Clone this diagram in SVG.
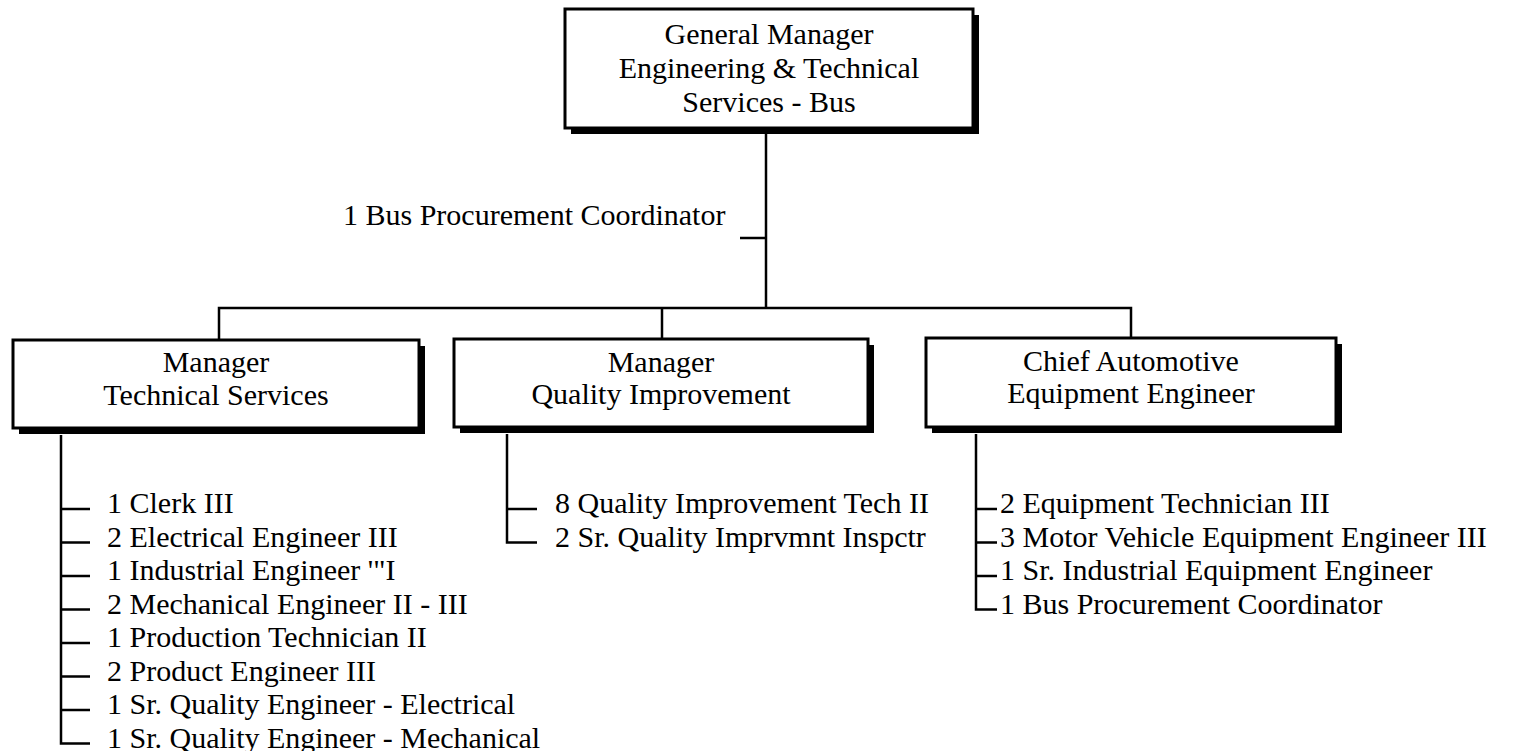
<svg xmlns="http://www.w3.org/2000/svg" width="1523" height="751" viewBox="0 0 1523 751">
<style>
text{font-family:"Liberation Serif","Times New Roman",serif;font-size:30px;fill:#000}
.c{text-anchor:middle}
.box{fill:#fff;stroke:#000;stroke-width:3}
.sh{fill:#000}
.ln{stroke:#000;stroke-width:2.5;fill:none}
</style>
<rect width="1523" height="751" fill="#fff"/>
<g id="connectors">
<path class="ln" d="M766 134 V308"/>
<path class="ln" d="M740 238 H766"/>
<path class="ln" d="M219 340 V308 H1131 V338"/>
<path class="ln" d="M662 308 V339"/>
<path class="ln" d="M61 435 V743.5 H90"/>
<path class="ln" d="M61 509 H90 M61 542.5 H90 M61 576 H90 M61 609.5 H90 M61 643 H90 M61 676.5 H90 M61 710 H90"/>
<path class="ln" d="M507 434 V542.5 H537"/>
<path class="ln" d="M507 509 H537"/>
<path class="ln" d="M976 434 V609.5 H997"/>
<path class="ln" d="M976 509 H997 M976 542.5 H997 M976 576 H997"/>
</g>
<g id="gm">
<rect class="sh" x="571" y="15" width="408" height="119"/>
<rect class="box" x="565" y="9" width="408" height="119"/>
<text class="c" x="769" y="44">General Manager</text>
<text class="c" x="769" y="78">Engineering &amp; Technical</text>
<text class="c" x="769" y="112">Services - Bus</text>
</g>
<g id="coord">
<text x="343" y="225">1 Bus Procurement Coordinator</text>
</g>
<g id="mts">
<rect class="sh" x="19" y="346" width="406" height="88"/>
<rect class="box" x="13" y="340" width="406" height="88"/>
<text class="c" x="216" y="372">Manager</text>
<text class="c" x="216" y="405">Technical Services</text>
</g>
<g id="mqi">
<rect class="sh" x="460" y="345" width="414" height="88"/>
<rect class="box" x="454" y="339" width="414" height="88"/>
<text class="c" x="661" y="372">Manager</text>
<text class="c" x="661" y="404">Quality Improvement</text>
</g>
<g id="caee">
<rect class="sh" x="932" y="344" width="410" height="89"/>
<rect class="box" x="926" y="338" width="410" height="89"/>
<text class="c" x="1131" y="371">Chief Automotive</text>
<text class="c" x="1131" y="403">Equipment Engineer</text>
</g>
<g id="ts-staff">
<text x="107" y="513">1 Clerk III</text>
<text x="107" y="546.5">2 Electrical Engineer III</text>
<text x="107" y="580">1 Industrial Engineer '"I</text>
<text x="107" y="613.5">2 Mechanical Engineer II - III</text>
<text x="107" y="647">1 Production Technician II</text>
<text x="107" y="680.5">2 Product Engineer III</text>
<text x="107" y="714">1 Sr. Quality Engineer - Electrical</text>
<text x="107" y="747.5">1 Sr. Quality Engineer - Mechanical</text>
</g>
<g id="qi-staff">
<text x="555" y="513">8 Quality Improvement Tech II</text>
<text x="555" y="546.5">2 Sr. Quality Imprvmnt Inspctr</text>
</g>
<g id="ae-staff">
<text x="1000" y="513">2 Equipment Technician III</text>
<text x="1000" y="546.5">3 Motor Vehicle Equipment Engineer III</text>
<text x="1000" y="580">1 Sr. Industrial Equipment Engineer</text>
<text x="1000" y="613.5">1 Bus Procurement Coordinator</text>
</g>
</svg>
